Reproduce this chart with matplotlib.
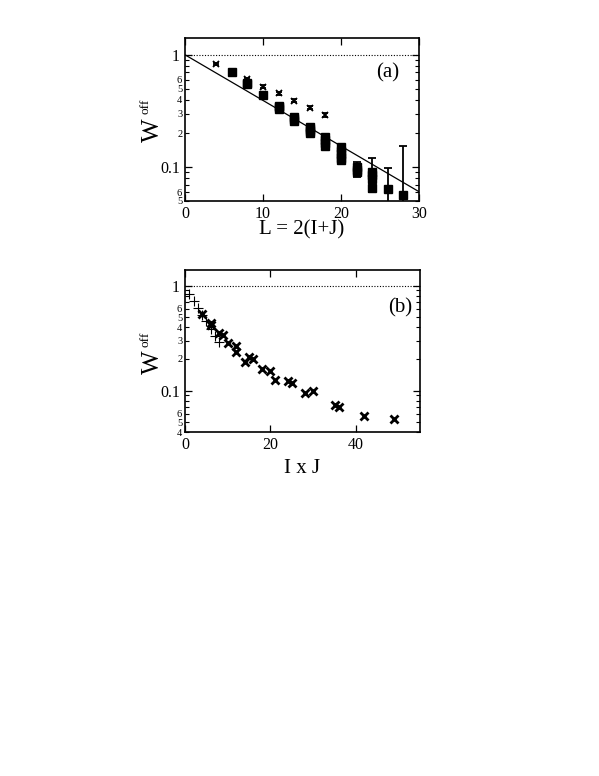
import matplotlib
matplotlib.use("Agg")
import matplotlib.pyplot as plt
from matplotlib.ticker import FixedLocator, FixedFormatter

plt.rcParams['font.family'] = ['Liberation Serif', 'DejaVu Serif']

# ---- panel (a) data ----
star_L = [4, 8, 10, 12, 14, 16, 18]
star_W = [0.83, 0.607, 0.521, 0.455, 0.391, 0.339, 0.291]

sq_L = [6, 8, 8, 10, 12, 12, 12, 14, 14, 14, 16, 16, 16, 16,
        18, 18, 18, 18, 20, 20, 20, 20, 20, 22, 22, 22, 24, 24, 24, 24, 26, 28]
sq_W = [0.71, 0.56, 0.55, 0.436, 0.35, 0.34, 0.33, 0.28, 0.27, 0.26,
        0.23, 0.22, 0.21, 0.20, 0.185, 0.175, 0.165, 0.155,
        0.15, 0.14, 0.13, 0.12, 0.115, 0.10, 0.095, 0.09,
        0.085, 0.078, 0.09, 0.065, 0.0636, 0.056]
sq_err = [0.01, 0.01, 0.01, 0.008, 0.008, 0.008, 0.008, 0.006, 0.006, 0.006,
          0.006, 0.006, 0.006, 0.006, 0.005, 0.005, 0.005, 0.005,
          0.005, 0.005, 0.005, 0.005, 0.005, 0.012, 0.01, 0.008,
          0.006, 0.006, 0.03, 0.003, 0.035, 0.099]

fit_L = [0, 30]
fit_W = [1.0, 0.0605]

# ---- panel (b) data ----
plus_IJ = [1, 2, 3, 4, 5, 6, 7, 8]
plus_W = [0.83, 0.713, 0.607, 0.53, 0.459, 0.39, 0.332, 0.29]

cross_IJ = [4, 6, 6, 8, 9, 10, 12, 12, 14, 15, 16, 18, 20, 21,
            24, 25, 28, 30, 35, 36, 42, 49]
cross_W = [0.54, 0.44, 0.425, 0.355, 0.336, 0.287, 0.265, 0.235, 0.187,
           0.209, 0.201, 0.161, 0.155, 0.127, 0.122, 0.119, 0.094, 0.098,
           0.0735, 0.0703, 0.0576, 0.0537]

major_y = [0.1, 1]
minor_a = [0.05, 0.06, 0.07, 0.08, 0.09, 0.2, 0.3, 0.4, 0.5, 0.6, 0.7, 0.8, 0.9]
minor_a_lbl = ['5', '6', '', '', '', '2', '3', '4', '5', '6', '', '', '']
minor_b = [0.04] + minor_a
minor_b_lbl = ['4'] + minor_a_lbl


def style_axis(ax, minor, minor_lbl, w_y, off_y):
    ax.set_yscale('log')
    ax.yaxis.set_major_locator(FixedLocator(major_y))
    ax.yaxis.set_major_formatter(FixedFormatter(['0.1', '1']))
    ax.yaxis.set_minor_locator(FixedLocator(minor))
    ax.yaxis.set_minor_formatter(FixedFormatter(minor_lbl))
    ax.tick_params(which='both', direction='in', top=True, right=True)
    ax.tick_params(which='major', length=5, width=0.9, labelsize=11.5)
    ax.tick_params(which='minor', length=3, width=0.8, labelsize=7.5, pad=2)
    for s in ax.spines.values():
        s.set_linewidth(1.2)
    ax.axhline(1.0, color='black', ls=(0, (1, 1.5)), lw=0.8)
    # y label: big W with small raised "off"
    ax.text(-0.135, w_y, 'W', transform=ax.transAxes, rotation=90,
            fontsize=18, ha='center', va='center')
    ax.text(-0.17, off_y, 'off', transform=ax.transAxes, rotation=90,
            fontsize=9.5, ha='center', va='center')


fig = plt.figure(figsize=(5.99, 7.76), dpi=100)

# (a)
ax1 = fig.add_axes([0.3088, 0.741, 0.3907, 0.210])
style_axis(ax1, minor_a, minor_a_lbl, 0.436, 0.58)
ax1.plot(fit_L, fit_W, color='black', lw=0.9)
ax1.errorbar(star_L, star_W, yerr=[0.012] * len(star_L), fmt='x', color='black',
             ms=4.5, mew=1.3, capsize=2.5, elinewidth=1.0)
ax1.errorbar(sq_L, sq_W, yerr=sq_err, fmt='s', color='black',
             ms=5.5, capsize=3, elinewidth=1.3, capthick=1.3)
ax1.set_xlim(0, 30)
ax1.set_ylim(0.05, 1.41)
ax1.set_xticks([0, 10, 20, 30])
ax1.set_xlabel('L = 2(I+J)', fontsize=15, labelpad=-1)
ax1.text(0.865, 0.785, '(a)', transform=ax1.transAxes, fontsize=15,
         ha='center', va='center')

# (b)
ax2 = fig.add_axes([0.3088, 0.443, 0.3923, 0.209])
style_axis(ax2, minor_b, minor_b_lbl, 0.432, 0.575)
ax2.plot(plus_IJ, plus_W, '+', color='black', ms=7, mew=0.8)
ax2.plot(cross_IJ, cross_W, 'x', color='black', ms=6, mew=2.0)
ax2.set_xlim(0, 55)
ax2.set_ylim(0.04, 1.41)
ax2.set_xticks([0, 20, 40])
ax2.set_xlabel('I x J', fontsize=15, labelpad=4)
ax2.text(0.915, 0.767, '(b)', transform=ax2.transAxes, fontsize=15,
         ha='center', va='center')

fig.savefig('out.png', dpi=100)
plt.close(fig)
